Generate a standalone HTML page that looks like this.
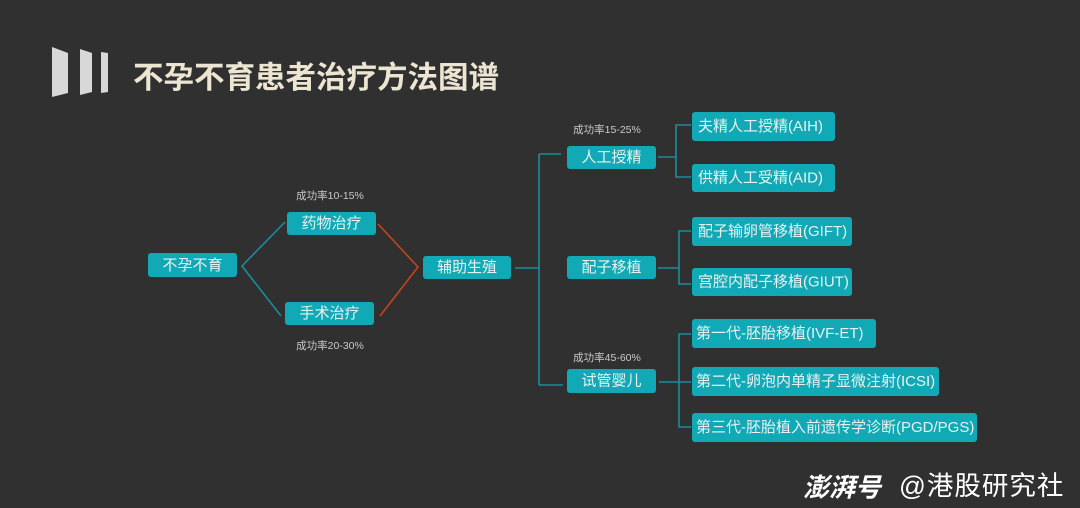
<!DOCTYPE html>
<html><head><meta charset="utf-8"><style>
html,body{margin:0;padding:0;background:#303030;}
body{width:1080px;height:508px;overflow:hidden;position:relative;}
svg{position:absolute;left:0;top:0;}
.t{font-family:"Liberation Sans","Noto Sans CJK SC",sans-serif;}
</style></head><body>
<svg width="1080" height="508" viewBox="0 0 1080 508" xmlns="http://www.w3.org/2000/svg">
<rect width="1080" height="508" fill="#303030"/>
<!-- title icon -->
<polygon points="52,47 68,53 68,93 52,97" fill="#d8d8d8"/>
<polygon points="80,49 92,53 92,92 80,95" fill="#d8d8d8"/>
<polygon points="101,52 108,53 108,92 101,93" fill="#d8d8d8"/>
<text x="133" y="75" dominant-baseline="central" font-size="30.5" font-weight="bold" fill="#ece5d2" style="font-family:'Noto Sans CJK SC',sans-serif">不孕不育患者治疗方法图谱</text>

<!-- connectors -->
<g fill="none" stroke-width="1.6">
<polyline points="285,222 242,266 281,316" stroke="#1b8e9b"/>
<polyline points="378,224 418,267 380,316" stroke="#c4441c"/>
<g stroke="#1b8e9b">
<line x1="515" y1="268" x2="539" y2="268"/>
<line x1="539" y1="154" x2="539" y2="385"/>
<line x1="539" y1="154" x2="561" y2="154"/>
<line x1="539" y1="385" x2="563" y2="385"/>
<line x1="658" y1="157" x2="676" y2="157"/>
<polyline points="691,125 676,125 676,177 691,177"/>
<line x1="658" y1="268" x2="679" y2="268"/>
<polyline points="691,231 679,231 679,284 691,284"/>
<line x1="659" y1="382" x2="691" y2="382"/>
<polyline points="691,334 679,334 679,427 691,427"/>
</g>
</g>

<!-- boxes -->
<g fill="#12a9b7">
<rect x="148" y="253" width="89" height="24" rx="3"/>
<rect x="287" y="212" width="89" height="23" rx="3"/>
<rect x="285" y="302" width="89" height="23" rx="3"/>
<rect x="423" y="256" width="88" height="23" rx="3"/>
<rect x="567" y="146" width="89" height="23" rx="3"/>
<rect x="567" y="256" width="89" height="23" rx="3"/>
<rect x="567" y="369" width="89" height="24" rx="3"/>
<rect x="692" y="112" width="143" height="29" rx="3"/>
<rect x="692" y="164" width="143" height="28" rx="3"/>
<rect x="692" y="217" width="160" height="29" rx="3"/>
<rect x="692" y="268" width="160" height="28" rx="3"/>
<rect x="692" y="319" width="184" height="29" rx="3"/>
<rect x="692" y="367" width="247" height="29" rx="3"/>
<rect x="692" y="413" width="285" height="29" rx="3"/>
</g>

<g class="t" font-size="15" fill="#e8f2f0" dominant-baseline="central">
<text x="192.5" y="265.5" text-anchor="middle">不孕不育</text>
<text x="331.5" y="223.5" text-anchor="middle">药物治疗</text>
<text x="329.5" y="313.5" text-anchor="middle">手术治疗</text>
<text x="467" y="267.5" text-anchor="middle">辅助生殖</text>
<text x="611.5" y="157.5" text-anchor="middle">人工授精</text>
<text x="611.5" y="267.5" text-anchor="middle">配子移植</text>
<text x="611.5" y="381" text-anchor="middle">试管婴儿</text>
<text x="698" y="126.5">夫精人工授精(AIH)</text>
<text x="698" y="178">供精人工受精(AID)</text>
<text x="698" y="231.5">配子输卵管移植(GIFT)</text>
<text x="698" y="282">宫腔内配子移植(GIUT)</text>
<text x="696" y="333.5">第一代-胚胎移植(IVF-ET)</text>
<text x="696" y="381.5">第二代-卵泡内单精子显微注射(ICSI)</text>
<text x="696" y="427.5">第三代-胚胎植入前遗传学诊断(PGD/PGS)</text>
</g>

<g class="t" font-size="10.5" fill="#c9c9c9" dominant-baseline="central" text-anchor="middle">
<text x="330" y="196">成功率10-15%</text>
<text x="330" y="346">成功率20-30%</text>
<text x="607" y="130">成功率15-25%</text>
<text x="607" y="358">成功率45-60%</text>
</g>

<!-- watermark -->
<text x="803" y="486" dominant-baseline="central" font-size="26" font-weight="bold" font-style="italic" fill="#ffffff" letter-spacing="0" style="font-family:'Noto Sans CJK SC',sans-serif">澎湃号</text>
<text class="t" x="899" y="486" dominant-baseline="central" font-size="26.5" fill="#ffffff" letter-spacing="1">@港股研究社</text>
</svg>
</body></html>
